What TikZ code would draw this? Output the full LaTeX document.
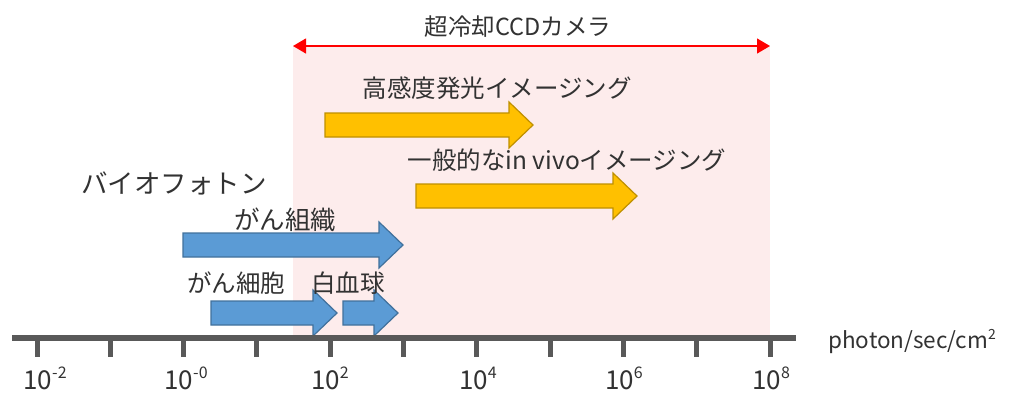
\documentclass[tikz,border=0pt]{standalone}
\usepackage{fontspec}
\setmainfont{Noto Sans CJK JP}
\usetikzlibrary{arrows.meta}
\definecolor{pinkbg}{RGB}{253,236,236}
\definecolor{axisgray}{RGB}{89,89,89}
\definecolor{yelfill}{RGB}{255,192,0}
\definecolor{yeledge}{RGB}{191,144,0}
\definecolor{bluefill}{RGB}{91,155,213}
\definecolor{blueedge}{RGB}{65,113,156}
\definecolor{txt}{RGB}{50,50,50}
\newcommand\blockarrow[4]{% #1 style, #2 x start, #3 tip x, #4 y center
  \draw[#1] (#2,#4-12) -- (#3-24,#4-12) -- (#3-24,#4-23) -- (#3,#4) -- (#3-24,#4+23) -- (#3-24,#4+12) -- (#2,#4+12) -- cycle;}
\newcommand\tlab[1]{10\raisebox{0.42em}{\fontsize{16}{16}\selectfont #1}}
\begin{document}
\begin{tikzpicture}[x=1pt,y=-1pt,
  lbl/.style={text=txt,inner sep=0pt,font=\fontsize{24.5}{26}\selectfont},
  ticklbl/.style={text=txt,inner sep=0pt,anchor=base,text depth=0pt,font=\fontsize{26}{28}\selectfont},
  yarrow/.style={fill=yelfill,draw=yeledge,line width=1.2pt,line join=miter},
  barrow/.style={fill=bluefill,draw=blueedge,line width=1.2pt,line join=miter},
  tickline/.style={draw=axisgray,line width=5pt},
  cam/.style={draw=red,line width=1.2pt,{Triangle[length=13pt,width=15pt]}-{Triangle[length=13pt,width=15pt]}}]
\useasboundingbox (0,0) rectangle (1011,392);
% pink camera range
\fill[pinkbg] (293,46) rectangle (770,337);
\coordinate (camL) at (293,46);
\coordinate (camR) at (770,46);
\draw[cam] (camL) -- (camR);
\node[lbl,font=\fontsize{23.5}{25}\selectfont] (camtext) at (518,27) {超冷却CCDカメラ};
% yellow arrows
\blockarrow{yarrow}{325}{533}{125}
\blockarrow{yarrow}{416}{637}{196}
\node[lbl] (hs) at (497,88) {高感度発光イメージング};
\node[lbl] (iv) at (567,160) {一般的なin vivoイメージング};
% biophoton
\node[lbl,font=\fontsize{26.5}{28}\selectfont] (bio) at (174,183) {バイオフォトン};
\blockarrow{barrow}{183}{403}{245}
\blockarrow{barrow}{211}{337}{313}
\blockarrow{barrow}{343}{398}{313}
\node[lbl,font=\fontsize{25.5}{27}\selectfont] (tissue) at (285,220) {がん組織};
\node[lbl] (cell) at (236,283) {がん細胞};
\node[lbl] (wbc) at (348,283) {白血球};
% axis
\coordinate (axL) at (12,338);
\coordinate (axR) at (796,338);
\draw[tickline,line width=5.5pt] (axL) -- (axR);
\foreach \k in {0,...,10}{
  \coordinate (t\k) at ({37+73.3*\k},338);
  \draw[tickline] (t\k) -- ++(0,19);
}
\node[ticklbl] (l0) at (45,389) {\tlab{-2}};
\node[ticklbl] (l2) at (186,389) {\tlab{-0}};
\node[ticklbl] (l4) at (330,389) {\tlab{2}};
\node[ticklbl] (l6) at (478,389) {\tlab{4}};
\node[ticklbl] (l8) at (624,389) {\tlab{6}};
\node[ticklbl] (l10) at (771,389) {\tlab{8}};
\node[text=txt,inner sep=0pt,anchor=west,font=\fontsize{22.5}{24}\selectfont] (unit) at (828,341) {photon/sec/cm\raisebox{0.4em}{\fontsize{14}{14}\selectfont 2}};
\end{tikzpicture}
\end{document}
